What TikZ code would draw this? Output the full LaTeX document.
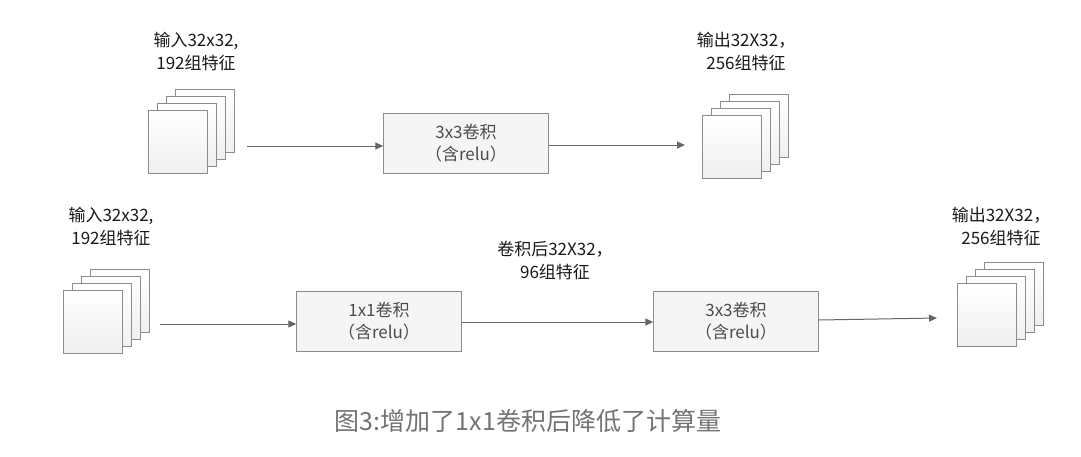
\documentclass[tikz,border=0pt]{standalone}
\usepackage{fontspec}
\setmainfont{Noto Sans CJK SC}
\usetikzlibrary{arrows.meta}
\begin{document}
\begin{tikzpicture}[x=1pt,y=-1pt,
  lab/.style={font=\fontsize{17}{23}\selectfont,text=black!90,align=center},
  box/.style={draw=black!45,fill=black!4,minimum width=165pt,minimum height=60pt,inner sep=0pt,align=center,font=\fontsize{17}{22}\selectfont,text=black!70},
  arr/.style={draw=black!60,line width=1pt,-{Triangle[length=8pt,width=7pt]}}]
\useasboundingbox (0,0) rectangle (1081,456);
\newcommand{\stk}[3]{% #1 x front-left, #2 y front-top, #3 name
  \foreach \i in {3,2,1,0}{
    \draw[draw=black!45,top color=white,bottom color=black!6] ({#1+9*\i},{#2-7*\i}) rectangle ++(59,63);}
  \coordinate (#3) at ({#1+30},{#2+30});}
% top row
\stk{148}{110}{in1}
\node[lab] (l1) at (196,52) {输入32x32,\\192组特征};
\node[box] (b1) at (466,143) {3x3卷积\\（含relu）};
\stk{702}{115}{out1}
\node[lab] (l2) at (746,52) {输出32X32，\\256组特征};
\coordinate (a1) at (247,146);
\draw[arr] (a1) -- (b1.west|-a1);
\coordinate (a2) at (685,145);
\draw[arr] (b1.east|-a2) -- (a2);
% bottom row
\stk{63}{290}{in2}
\node[lab] (l3) at (111,227) {输入32x32,\\192组特征};
\node[box] (b2) at (379,321) {1x1卷积\\（含relu）};
\node[lab] (l4) at (555,261) {卷积后32X32，\\96组特征};
\node[box] (b3) at (736,321) {3x3卷积\\（含relu）};
\stk{957}{283}{out2}
\node[lab] (l5) at (1001,227) {输出32X32，\\256组特征};
\coordinate (a3) at (160,324);
\draw[arr] (a3) -- (b2.west|-a3);
\draw[arr] (b2.east|-0,322) -- (b3.west|-0,322);
\coordinate (a4) at (937,318);
\draw[arr] (b3.east|-0,320) -- (a4);
\node[font=\fontsize{25}{30}\selectfont,text=black!55] (cap) at (528,421) {图3:增加了1x1卷积后降低了计算量};
\end{tikzpicture}
\end{document}
